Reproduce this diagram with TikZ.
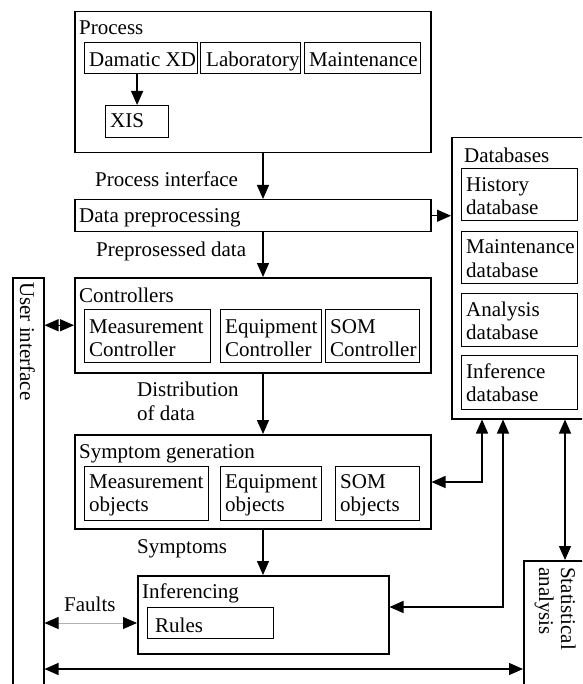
\documentclass[tikz,border=0pt]{standalone}
\usepackage{fontspec}
\setmainfont{Liberation Serif}
\usetikzlibrary{arrows.meta,calc}
\tikzset{tri/.tip={Triangle[length=14pt,width=12pt,color=black]}}
\begin{document}
\begin{tikzpicture}[x=1pt,y=-1pt,
  box/.style={draw, line width=1.5pt, inner sep=0pt, anchor=north west},
  ibox/.style={draw, line width=1.2pt, inner sep=0pt, anchor=north west},
  lbl/.style={anchor=base west, inner sep=0pt, font=\fontsize{21}{23}\selectfont},
  arr/.style={-{tri}, line width=1.3pt},
  darr/.style={{tri}-{tri}, line width=1.3pt}]
\useasboundingbox (0,0) rectangle (582,684);
\clip (0,0) rectangle (582,684);
\fill[white] (0,0) rectangle (582,684);

% Process
\node[box, minimum width=356pt, minimum height=141pt] (proc) at (74,11) {};
\node[lbl] (tproc) at (79,35) {Process};
\node[ibox, minimum width=113pt, minimum height=31pt] (dam) at (84,42) {};
\node[ibox, minimum width=100pt, minimum height=31pt] (lab) at (200,42) {};
\node[ibox, minimum width=116pt, minimum height=31pt] (mnt) at (304,42) {};
\node[lbl] (tdam) at (89,67) {Damatic XD};
\node[lbl] (tlab) at (206,67) {Laboratory};
\node[lbl] (tmnt) at (309,67) {Maintenance};
\node[ibox, minimum width=63pt, minimum height=32pt] (xis) at (105,105) {};
\node[lbl] (txis) at (110,128) {XIS};

\node[lbl] (tpi) at (95,187) {Process interface};

% Data preprocessing
\node[box, minimum width=356pt, minimum height=32pt] (prep) at (74,199) {};
\node[lbl] (tprep) at (79,223) {Data preprocessing};
\node[lbl] (tppd) at (96,256) {Preprosessed data};

% Controllers
\node[box, minimum width=356pt, minimum height=95pt] (ctrl) at (74,277) {};
\node[lbl] (tctrl) at (79,302) {Controllers};
\node[ibox, minimum width=126pt, minimum height=53pt] (mc) at (84,309) {};
\node[ibox, minimum width=101pt, minimum height=53pt] (ec) at (220,309) {};
\node[ibox, minimum width=94pt, minimum height=53pt] (sc) at (325,309) {};
\node[lbl] (tmc1) at (89,333) {Measurement};
\node[lbl] (tmc2) at (89,356) {Controller};
\node[lbl] (tec1) at (225,333) {Equipment};
\node[lbl] (tec2) at (225,356) {Controller};
\node[lbl] (tsc1) at (330,333) {SOM};
\node[lbl] (tsc2) at (330,356) {Controller};

% Databases
\node[box, minimum width=160pt, minimum height=281pt] (db) at (451,137) {};
\node[lbl] (tdb) at (464,163) {Databases};
\node[ibox, minimum width=116pt, minimum height=52pt] (hdb) at (461,168) {};
\node[ibox, minimum width=116pt, minimum height=52pt] (mdb) at (461,231) {};
\node[ibox, minimum width=116pt, minimum height=53pt] (adb) at (461,293) {};
\node[ibox, minimum width=116pt, minimum height=54pt] (idb) at (461,355) {};
\node[lbl] (th1) at (466,192) {History};
\node[lbl] (th2) at (466,215) {database};
\node[lbl] (tm1) at (466,254) {Maintenance};
\node[lbl] (tm2) at (466,277) {database};
\node[lbl] (ta1) at (466,316) {Analysis};
\node[lbl] (ta2) at (466,339) {database};
\node[lbl] (ti1) at (466,378) {Inference};
\node[lbl] (ti2) at (466,401) {database};

\node[lbl] (tdist1) at (137,396) {Distribution};
\node[lbl] (tdist2) at (137,420) {of data};

% Symptom generation
\node[box, minimum width=356pt, minimum height=94pt] (sym) at (74,434) {};
\node[lbl] (tsym) at (79,458) {Symptom generation};
\node[ibox, minimum width=124pt, minimum height=54pt] (mo) at (84,466) {};
\node[ibox, minimum width=101pt, minimum height=54pt] (eo) at (220,466) {};
\node[ibox, minimum width=84pt, minimum height=54pt] (so) at (335,466) {};
\node[lbl] (tmo1) at (89,488) {Measurement};
\node[lbl] (tmo2) at (89,511) {objects};
\node[lbl] (teo1) at (225,488) {Equipment};
\node[lbl] (teo2) at (225,511) {objects};
\node[lbl] (tso1) at (340,488) {SOM};
\node[lbl] (tso2) at (340,511) {objects};

\node[lbl] (tsymp) at (137,553) {Symptoms};

% Inferencing
\node[box, minimum width=251pt, minimum height=78pt] (inf) at (137,575) {};
\node[lbl] (tinf) at (142,598) {Inferencing};
\node[ibox, minimum width=126pt, minimum height=31pt] (rules) at (147,607) {};
\node[lbl] (trules) at (155,632) {Rules};
\node[lbl] (tfaults) at (64,611) {Faults};

% User interface
\node[box, minimum width=31pt, minimum height=430pt] (ui) at (12,277) {};
\node[anchor=west, rotate=-90, inner sep=0pt, font=\fontsize{21}{23}\selectfont] (tui) at (27.5,282) {User interface};

% Statistical analysis
\node[box, minimum width=80pt, minimum height=140pt] (stat) at (523,560) {};
\node[anchor=north west, rotate=-90, inner sep=0pt, align=left, font=\fontsize{21}{22}\selectfont] (tstat) at (576,567) {Statistical\\analysis};

% Connectors
\coordinate (cx) at (263,0);
\draw[arr] (dam.south -| xis.north) -- (xis.north);
\draw[arr] (proc.south -| cx) -- (prep.north -| cx);
\draw[arr] (prep.east) -- (prep.east -| db.west);
\draw[arr] (prep.south -| cx) -- (ctrl.north -| cx);
\draw[darr] (ctrl.west -| ui.east) -- (ctrl.west);
\draw[arr] (ctrl.south -| cx) -- (sym.north -| cx);
\draw[arr] (sym.south -| cx) -- (inf.north -| cx);
\coordinate (d1) at (482,482);
\draw[darr] (d1 -| sym.east) -- (d1) -- (d1 |- db.south);
\coordinate (d2) at (503,607);
\draw[darr] (d2 -| inf.east) -- (d2) -- (d2 |- db.south);
\coordinate (d3) at (565,0);
\draw[darr] (d3 |- db.south) -- (d3 |- stat.north);
\coordinate (f) at (0,623);
\draw[{tri}-{tri}, line width=0.8pt, draw=gray!60] (f -| ui.east) -- (f -| inf.west);
\coordinate (b) at (0,669);
\draw[darr] (b -| ui.east) -- (b -| stat.west);
\end{tikzpicture}
\end{document}
